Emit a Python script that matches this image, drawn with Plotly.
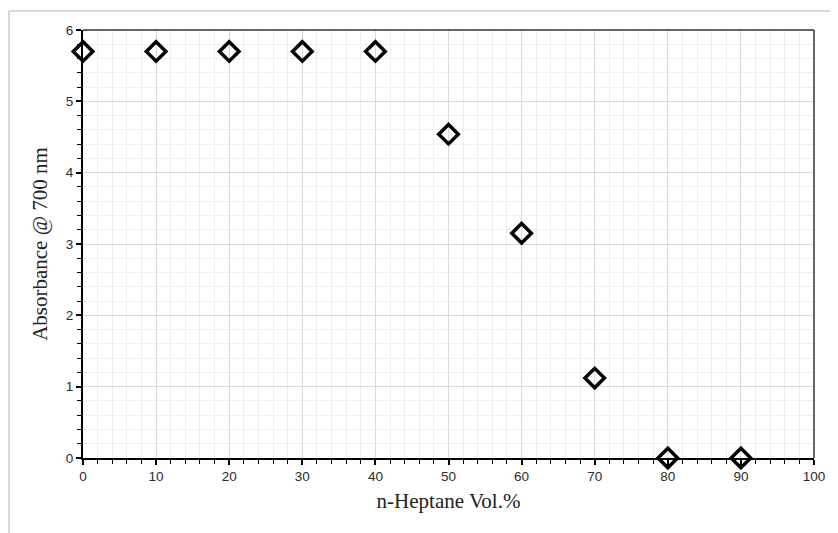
import plotly.graph_objects as go

heptane_vol = [0, 10, 20, 30, 40, 50, 60, 70, 80, 90]
absorbance = [5.7, 5.7, 5.7, 5.7, 5.7, 4.54, 3.15, 1.12, 0.0, 0.0]

x_ticks = [0, 10, 20, 30, 40, 50, 60, 70, 80, 90, 100]
y_ticks = [0, 1, 2, 3, 4, 5, 6]

# page body has an 8px margin; target pixel positions are compensated
OFF = 8
W, H = 838, 533
px_left, px_right, px_top, px_bottom = 83, 814, 30, 458
L = px_left - OFF
T = px_top - OFF
R = W - (px_right - OFF)
B = H - (px_bottom - OFF)
pw, ph = W - L - R, H - T - B

fig = go.Figure()
fig.add_trace(go.Scatter(
    x=heptane_vol, y=absorbance, mode="markers",
    marker=dict(symbol="diamond-open", size=15, color="black",
                line=dict(color="black", width=3.5)),
    cliponaxis=False, showlegend=False,
))

tickfont = dict(family="Liberation Sans, Arial", size=13.5, color="#2b2b2b")
titlefont = dict(family="Liberation Serif, Times New Roman", size=21, color="#222222")

fig.update_xaxes(
    range=[0, 100], tickvals=x_ticks, ticktext=[str(v) for v in x_ticks],
    showgrid=True, gridcolor="#d9d9d9", gridwidth=1,
    minor=dict(dtick=2, showgrid=True, gridcolor="#efefef", ticks="outside",
               ticklen=4, tickcolor="black", tickwidth=1),
    ticks="outside", ticklen=5, tickcolor="black", tickwidth=1.5,
    showline=True, linecolor="black", linewidth=2, zeroline=False,
    tickfont=tickfont,
    title=dict(text="n-Heptane Vol.%", font=titlefont, standoff=10),
)
fig.update_yaxes(
    range=[0, 6], tickvals=y_ticks, ticktext=[str(v) for v in y_ticks],
    showgrid=True, gridcolor="#d9d9d9", gridwidth=1,
    minor=dict(dtick=0.2, showgrid=True, gridcolor="#efefef", ticks="outside",
               ticklen=4, tickcolor="black", tickwidth=1),
    ticks="outside", ticklen=5, tickcolor="black", tickwidth=1.5,
    showline=True, linecolor="black", linewidth=2, zeroline=False,
    tickfont=tickfont,
    title=dict(text="Absorbance @ 700 nm", font=titlefont, standoff=12),
)

# top/right plot frame
fig.add_shape(type="line", xref="paper", yref="paper", x0=0, x1=1, y0=1, y1=1,
              line=dict(color="#333333", width=1.5))
fig.add_shape(type="line", xref="paper", yref="paper", x0=1, x1=1, y0=0, y1=1,
              line=dict(color="#333333", width=1.5))

# outer light frame (chart area border)
fx = (9 - px_left) / pw
fy = (px_bottom - 11) / ph
fig.add_shape(type="line", xref="paper", yref="paper", x0=fx, x1=fx, y0=-0.3, y1=fy,
              line=dict(color="#d9d9d9", width=2))
fig.add_shape(type="line", xref="paper", yref="paper", x0=fx, x1=1.2, y0=fy, y1=fy,
              line=dict(color="#d9d9d9", width=2))

fig.update_layout(
    width=W, height=H,
    margin=dict(l=L, r=R, t=T, b=B, autoexpand=False),
    paper_bgcolor="white", plot_bgcolor="white",
)

fig.write_html("out.html")
